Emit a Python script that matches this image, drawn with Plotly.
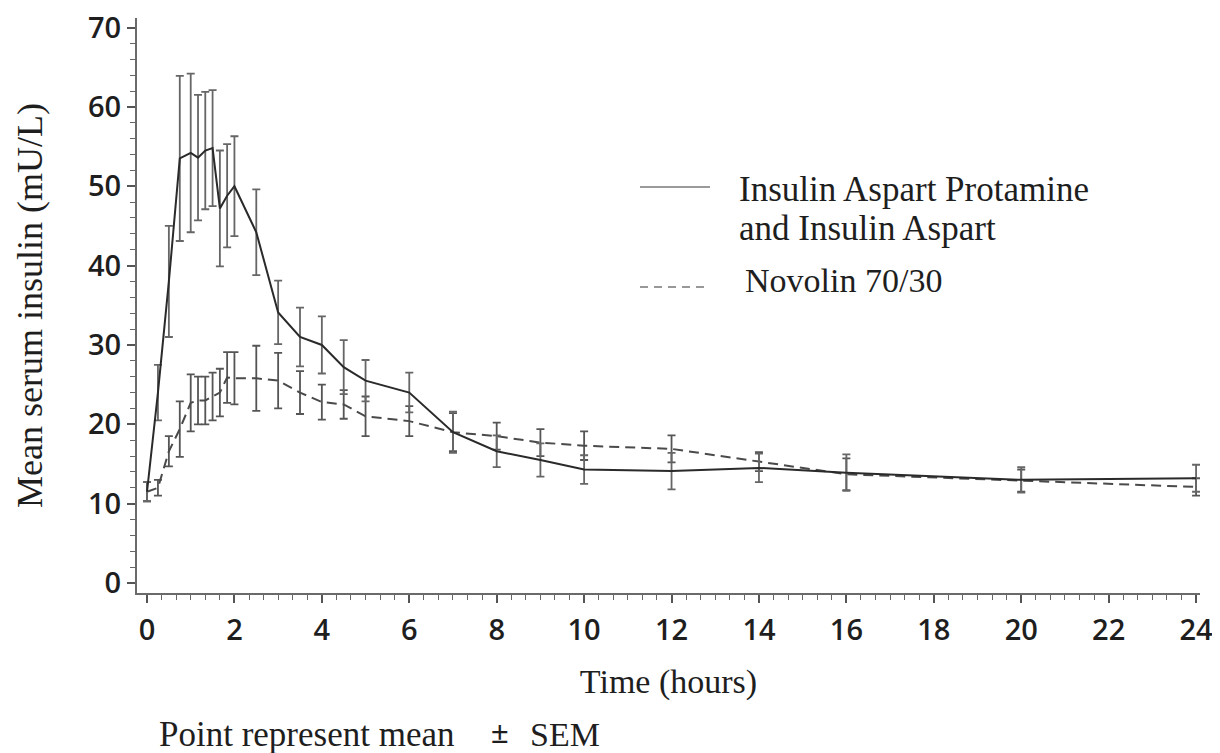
import plotly.graph_objects as go

# ---- data ----
time_h = [0, 0.25, 0.5, 0.75, 1.0, 1.167, 1.333, 1.5, 1.667, 1.833, 2.0, 2.5, 3, 3.5,
          4, 4.5, 5, 6, 7, 8, 9, 10, 12, 14, 16, 20, 24]

aspart_mean = [11.5, 24.0, 38.0, 53.5, 54.2, 53.6, 54.5, 54.8, 47.2, 48.8, 50.0, 44.2, 34.1, 31.0,
               30.0, 27.2, 25.5, 24.0, 19.0, 16.6, 15.5, 14.3, 14.1, 14.5, 13.9, 13.0, 13.2]
aspart_sem = [1.2, 3.5, 7.0, 10.4, 10.0, 7.9, 7.4, 7.3, 7.3, 6.5, 6.3, 5.4, 4.0, 3.7,
              3.6, 3.4, 2.6, 2.5, 2.6, 2.0, 2.1, 1.8, 2.3, 1.8, 2.3, 1.6, 1.7]

novolin_mean = [11.5, 12.0, 16.6, 19.4, 22.7, 23.0, 23.0, 23.5, 24.0, 25.9, 25.8, 25.8, 25.5, 24.0,
                22.8, 22.5, 21.0, 20.4, 19.0, 18.5, 17.7, 17.3, 16.9, 15.3, 13.7, 12.9, 12.1]
novolin_sem = [1.2, 1.0, 1.9, 3.5, 3.6, 3.0, 3.0, 3.0, 3.0, 3.2, 3.3, 4.1, 3.5, 2.7,
               2.2, 1.8, 2.5, 1.9, 2.4, 1.7, 1.7, 1.8, 1.7, 1.2, 2.0, 1.4, 1.1]

series_names = ["Insulin Aspart Protamine", "and Insulin Aspart", "Novolin 70/30"]
x_title = "Time (hours)"
y_title = "Mean serum insulin (mU/L)"
footnote = ["Point represent mean", "±", "SEM"]

# ---- layout constants (pixels) ----
# the page body has an 8px margin, so the figure is sized to fit the window
OFF = 8
W, H = 1220 - OFF, 753 - OFF
L, T = 137 - OFF, 18 - OFF
R, B = 1220 - 1200, 753 - 593
PW, PH = W - L - R, H - T - B


def px(xp):
    return (xp - OFF - L) / PW


def py(yp):
    return (H - B - (yp - OFF)) / PH


serif = "Liberation Serif"
sans = "Open Sans"
txt = "#1e1e1e"

fig = go.Figure()
fig.add_trace(go.Scatter(
    x=time_h, y=novolin_mean, mode="lines", name=series_names[2],
    line=dict(color="#4a4a4a", width=2, dash="10px,6px"),
    error_y=dict(type="data", array=novolin_sem, visible=True,
                 color="#555555", thickness=1.8, width=4),
    showlegend=False,
))
fig.add_trace(go.Scatter(
    x=time_h, y=aspart_mean, mode="lines", name=series_names[0] + " " + series_names[1],
    line=dict(color="#2a2a2a", width=2),
    error_y=dict(type="data", array=aspart_sem, visible=True,
                 color="#666666", thickness=1.8, width=4),
    showlegend=False,
))

axis_common = dict(
    showline=True, linecolor="#6a6a6a", linewidth=2, mirror=False,
    showgrid=False, zeroline=False,
    ticks="outside", ticklen=8, tickwidth=1.5, tickcolor="#555555",
    ticklabeloverflow="allow", automargin=False,
)

fig.update_xaxes(
    range=[-0.229, 24.09], tick0=0, dtick=2,
    minor=dict(ticks="outside", ticklen=5, tickwidth=1.2, tickcolor="#666666", dtick=1/3, tick0=0),
    title=dict(text=x_title, font=dict(family=serif, size=34, color=txt), standoff=22),
    tickfont=dict(family=sans, size=29, color=txt, weight=600),
    ticklabelstandoff=2,
    **axis_common,
)
fig.update_yaxes(
    range=[-1.26, 71.2], tick0=0, dtick=10,
    minor=dict(ticks="outside", ticklen=5, tickwidth=1.2, tickcolor="#666666", dtick=2, tick0=0),
    title=dict(text=y_title, font=dict(family=serif, size=36, color=txt), standoff=34),
    tickfont=dict(family=sans, size=29, color=txt, weight=600),
    **axis_common,
)

# legend drawn as samples + text
fig.add_shape(type="line", xref="paper", yref="paper",
              x0=px(640), x1=px(710), y0=py(187), y1=py(187),
              line=dict(color="#9a9a9a", width=2))
fig.add_shape(type="line", xref="paper", yref="paper",
              x0=px(640), x1=px(710), y0=py(287), y1=py(287),
              line=dict(color="#777777", width=1.5, dash="8px,6px"))
fig.add_annotation(xref="paper", yref="paper", x=px(737), y=py(189),
                   xanchor="left", yanchor="middle", align="left", showarrow=False,
                   text=series_names[0], font=dict(family=serif, size=35, color=txt))
fig.add_annotation(xref="paper", yref="paper", x=px(737), y=py(229),
                   xanchor="left", yanchor="middle", align="left", showarrow=False,
                   text=series_names[1], font=dict(family=serif, size=35, color=txt))
fig.add_annotation(xref="paper", yref="paper", x=px(743), y=py(280),
                   xanchor="left", yanchor="middle", align="left", showarrow=False,
                   text=series_names[2], font=dict(family=serif, size=34, color=txt))

# footnote
fig.add_annotation(xref="paper", yref="paper", x=px(157), y=py(734),
                   xanchor="left", yanchor="middle", showarrow=False,
                   text=footnote[0], font=dict(family=serif, size=35, color=txt))
fig.add_annotation(xref="paper", yref="paper", x=px(500), y=py(732),
                   xanchor="center", yanchor="middle", showarrow=False,
                   text=footnote[1], font=dict(family=serif, size=32, color=txt, weight="bold"))
fig.add_annotation(xref="paper", yref="paper", x=px(528), y=py(734),
                   xanchor="left", yanchor="middle", showarrow=False,
                   text=footnote[2], font=dict(family=serif, size=34, color=txt))

fig.update_layout(
    width=W, height=H,
    margin=dict(l=L, r=R, t=T, b=B, autoexpand=False),
    paper_bgcolor="white", plot_bgcolor="white",
    showlegend=False,
)

fig.write_html("out.html")
